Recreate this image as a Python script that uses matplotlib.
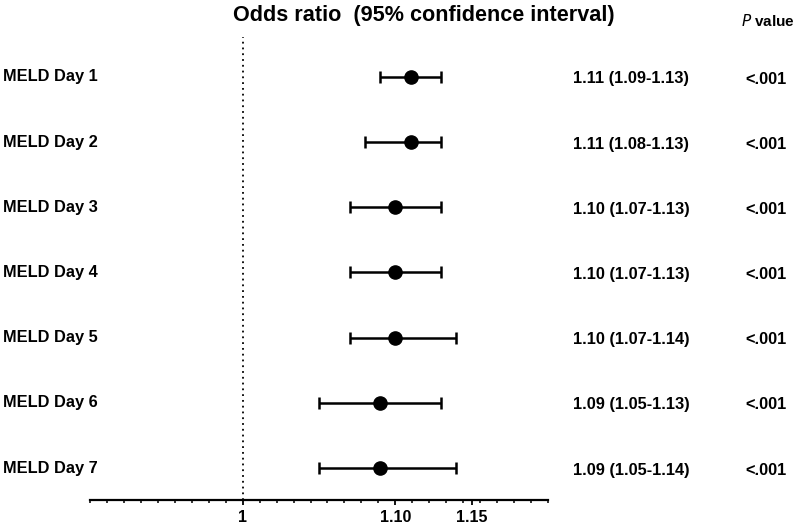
import matplotlib.pyplot as plt
import numpy as np

plt.rcParams['font.family'] = ['Liberation Sans', 'DejaVu Sans']

# data
labels = ['MELD Day 1', 'MELD Day 2', 'MELD Day 3', 'MELD Day 4',
          'MELD Day 5', 'MELD Day 6', 'MELD Day 7']
odds = [1.11, 1.11, 1.10, 1.10, 1.10, 1.09, 1.09]
lower = [1.09, 1.08, 1.07, 1.07, 1.07, 1.05, 1.05]
upper = [1.13, 1.13, 1.13, 1.13, 1.14, 1.13, 1.14]
pvals = ['<.001'] * 7

fig = plt.figure(figsize=(8, 5.28), dpi=100)
ax = fig.add_axes([90/800, 1 - 500/528, (548-90)/800, 470/528])

y = np.arange(len(labels))
odds_a = np.array(odds)
err = [odds_a - np.array(lower), np.array(upper) - odds_a]

ax.axvline(1, color='black', lw=1.3, ls=(0, (1, 2.2)), ymax=0.985)
ax.errorbar(odds, y, xerr=err, fmt='o', color='black', ms=9.5,
            elinewidth=1.8, capsize=4.2, capthick=1.8)

ax.set_xlim(0.9, 1.2)
ax.set_ylim(6.49, -0.72)
for s in ['left', 'right', 'top']:
    ax.spines[s].set_visible(False)
ax.spines['bottom'].set_linewidth(1.6)
ax.set_yticks([])
ax.set_xticks([1, 1.10, 1.15])
ax.set_xticklabels(['1', '1.10', '1.15'], fontsize=11.5, fontweight='bold')
ax.set_xticks(np.arange(0.9, 1.2001, 0.1/9), minor=True)
ax.tick_params(axis='x', which='major', length=3.5, width=1.3, pad=4)
ax.tick_params(axis='x', which='minor', length=2.5, width=1.1)

for i, lab in enumerate(labels):
    fig.text(3/800, 1 - (77 + i*65.17)/528, lab, fontsize=11.8,
             fontweight='bold', ha='left', va='center')
    txt = '%.2f (%.2f-%.2f)' % (odds[i], lower[i], upper[i])
    fig.text(631/800, 1 - (79 + i*65.17)/528, txt, fontsize=11.8,
             fontweight='bold', ha='center', va='center')
    fig.text(766/800, 1 - (79 + i*65.17)/528, pvals[i], fontsize=11.8,
             fontweight='bold', ha='center', va='center')

fig.text(424/800, 1 - 15/528, 'Odds ratio  (95% confidence interval)',
         fontsize=15.6, fontweight='bold', ha='center', va='center')
fig.text(768/800, 1 - 21/528, r'$\bf{\it{P}}$ value', fontsize=11,
         fontweight='bold', ha='center', va='center')

fig.savefig('out.png', dpi=100)
